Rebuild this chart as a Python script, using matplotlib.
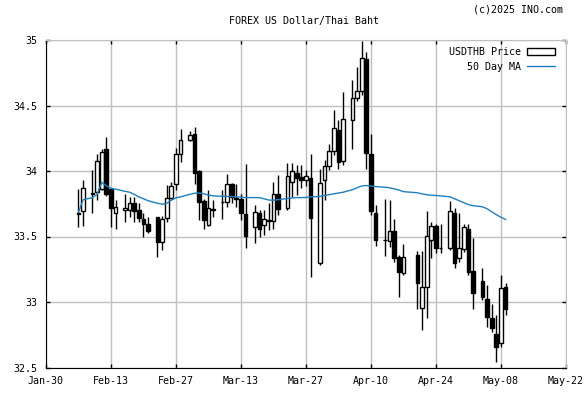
import matplotlib
matplotlib.use("Agg")
import matplotlib.pyplot as plt
import matplotlib.dates as mdates
from matplotlib.patches import Patch
from matplotlib.lines import Line2D
import pandas as pd

# Daily USD/THB candles (forex feed includes Sunday sessions)
dates = ["2025-02-06", "2025-02-07", "2025-02-09", "2025-02-10", "2025-02-11", "2025-02-12",
         "2025-02-13", "2025-02-14", "2025-02-16", "2025-02-17", "2025-02-18", "2025-02-19",
         "2025-02-20", "2025-02-21", "2025-02-23", "2025-02-24", "2025-02-25", "2025-02-26",
         "2025-02-27", "2025-02-28", "2025-03-02", "2025-03-03", "2025-03-04", "2025-03-05",
         "2025-03-06", "2025-03-07", "2025-03-09", "2025-03-10", "2025-03-11", "2025-03-12",
         "2025-03-13", "2025-03-14", "2025-03-16", "2025-03-17", "2025-03-18", "2025-03-19",
         "2025-03-20", "2025-03-21", "2025-03-23", "2025-03-24", "2025-03-25", "2025-03-26",
         "2025-03-27", "2025-03-28", "2025-03-30", "2025-03-31", "2025-04-01", "2025-04-02",
         "2025-04-03", "2025-04-04", "2025-04-06", "2025-04-07", "2025-04-08", "2025-04-09",
         "2025-04-10", "2025-04-11", "2025-04-13", "2025-04-14", "2025-04-15", "2025-04-16",
         "2025-04-17", "2025-04-20", "2025-04-21", "2025-04-22", "2025-04-23", "2025-04-24",
         "2025-04-25", "2025-04-27", "2025-04-28", "2025-04-29", "2025-04-30", "2025-05-01",
         "2025-05-02", "2025-05-04", "2025-05-05", "2025-05-06", "2025-05-07", "2025-05-08",
         "2025-05-09"]

opens = [33.675, 33.693, 33.828, 33.840, 33.866, 34.171, 33.866, 33.683, 33.701, 33.701,
         33.752, 33.701, 33.637, 33.599, 33.650, 33.455, 33.645, 33.797, 33.904, 34.133,
         34.239, 34.279, 33.998, 33.771, 33.586, 33.708, 33.766, 33.764, 33.899, 33.792,
         33.790, 33.670, 33.569, 33.676, 33.586, 33.622, 33.617, 33.822, 33.714, 33.916,
         33.988, 33.954, 33.929, 33.950, 33.295, 33.929, 34.036, 34.152, 34.310, 34.074,
         34.391, 34.559, 34.607, 34.856, 34.133, 33.683, 33.474, 33.465, 33.541, 33.340,
         33.223, 33.358, 32.952, 33.112, 33.477, 33.579, 33.416, 33.409, 33.676, 33.333,
         33.401, 33.561, 33.236, 33.160, 33.023, 32.876, 32.756, 32.685, 33.117]

highs = [33.866, 33.929, 34.005, 34.133, 34.171, 34.259, 33.868, 33.777, 33.822, 33.802,
         33.802, 33.752, 33.676, 33.650, 33.652, 33.655, 33.891, 33.916, 34.173, 34.323,
         34.305, 34.335, 34.005, 33.784, 33.853, 33.777, 33.853, 33.980, 33.906, 33.899,
         33.828, 34.056, 33.739, 33.701, 33.701, 33.752, 33.916, 33.967, 34.061, 34.061,
         34.043, 34.043, 34.005, 34.133, 34.018, 34.081, 34.209, 34.462, 34.386, 34.602,
         34.691, 34.792, 34.995, 34.912, 34.285, 33.739, 33.790, 33.782, 33.632, 33.358,
         33.439, 33.388, 33.388, 33.693, 33.612, 33.594, 33.594, 33.769, 33.721, 33.678,
         33.594, 33.594, 33.485, 33.257, 33.129, 32.985, 32.901, 33.206, 33.147]

lows = [33.574, 33.579, 33.680, 33.777, 33.853, 33.807, 33.574, 33.561, 33.612, 33.650,
        33.612, 33.612, 33.497, 33.523, 33.345, 33.396, 33.609, 33.784, 33.853, 34.069,
        34.226, 33.904, 33.624, 33.561, 33.579, 33.650, 33.637, 33.726, 33.752, 33.726,
        33.624, 33.409, 33.447, 33.497, 33.510, 33.548, 33.561, 33.663, 33.701, 33.802,
        33.815, 33.868, 33.883, 33.190, 33.282, 33.777, 34.005, 34.120, 34.018, 34.043,
        34.171, 34.538, 34.577, 34.018, 33.663, 33.429, 33.350, 33.421, 33.305, 33.040,
        33.206, 32.944, 32.787, 32.876, 33.333, 33.373, 33.373, 33.396, 33.257, 33.305,
        33.381, 33.206, 32.944, 33.015, 32.812, 32.772, 32.545, 32.660, 32.901]

closes = [33.678, 33.874, 33.832, 34.076, 34.145, 33.828, 33.714, 33.726, 33.718, 33.752,
          33.695, 33.645, 33.599, 33.543, 33.459, 33.637, 33.797, 33.883, 34.133, 34.239,
          34.272, 33.985, 33.764, 33.624, 33.714, 33.704, 33.762, 33.899, 33.802, 33.788,
          33.676, 33.503, 33.688, 33.561, 33.637, 33.626, 33.828, 33.708, 33.960, 34.000,
          33.950, 33.929, 33.960, 33.645, 33.909, 34.036, 34.150, 34.330, 34.069, 34.394,
          34.559, 34.607, 34.864, 34.137, 33.693, 33.472, 33.470, 33.541, 33.337, 33.231,
          33.345, 33.142, 33.112, 33.505, 33.579, 33.409, 33.412, 33.693, 33.295, 33.414,
          33.574, 33.231, 33.066, 33.040, 32.884, 32.800, 32.660, 33.104, 32.947]

ma50 = [33.688, 33.781, 33.797, 33.822, 33.914, 33.887, 33.868, 33.861, 33.845, 33.838,
        33.822, 33.802, 33.788, 33.773, 33.754, 33.746, 33.754, 33.777, 33.796, 33.803,
        33.822, 33.830, 33.832, 33.826, 33.816, 33.810, 33.807, 33.806, 33.805, 33.803,
        33.800, 33.797, 33.797, 33.796, 33.788, 33.778, 33.777, 33.781, 33.790, 33.794,
        33.797, 33.797, 33.798, 33.802, 33.806, 33.813, 33.819, 33.826, 33.832, 33.838,
        33.857, 33.872, 33.886, 33.889, 33.885, 33.881, 33.876, 33.872, 33.864, 33.855,
        33.842, 33.834, 33.825, 33.819, 33.815, 33.813, 33.810, 33.803, 33.788, 33.773,
        33.758, 33.743, 33.735, 33.727, 33.712, 33.689, 33.666, 33.647, 33.630]

tick_dates = pd.date_range("2025-01-30", "2025-05-22", freq="14D")
y_ticks = [32.5, 33, 33.5, 34, 34.5, 35]
y_labels = ["32.5", "33", "33.5", "34", "34.5", "35"]

mono = "DejaVu Sans Mono"
fs = 7.2
grid_col = "#c0c0c0"
ma_col = "#1f7fc0"

fig = plt.figure(figsize=(5.85, 3.94), dpi=100)
ax = fig.add_axes([46 / 585, 1 - 367.5 / 394, 520 / 585, 327.5 / 394])

x = mdates.date2num(pd.to_datetime(dates))

# wicks, then bodies on top
ax.vlines(x, lows, highs, colors="black", linewidth=1, zorder=2)
for xi, o, c in zip(x, opens, closes):
    face = "white" if c >= o else "black"
    ax.bar(xi, abs(c - o), bottom=min(o, c), width=0.8, color=face,
           edgecolor="black", linewidth=1, zorder=3)

ax.plot(x, ma50, color=ma_col, linewidth=1, zorder=4)

ax.set_xlim(mdates.date2num(tick_dates[0]), mdates.date2num(tick_dates[-1]))
ax.set_ylim(32.5, 35)
ax.set_xticks(mdates.date2num(tick_dates))
ax.set_xticklabels([d.strftime("%b-%d") for d in tick_dates], fontfamily=mono, fontsize=fs)
ax.set_yticks(y_ticks)
ax.set_yticklabels(y_labels, fontfamily=mono, fontsize=fs)
ax.tick_params(direction="in", length=3, width=1, top=True, right=True, pad=6)
ax.grid(True, color=grid_col, linewidth=1, zorder=0)
ax.set_axisbelow(True)
ax.spines["left"].set_color("black")
ax.spines["bottom"].set_color("black")
ax.spines["top"].set_color(grid_col)
ax.spines["right"].set_color(grid_col)

handles = [Patch(facecolor="white", edgecolor="black", linewidth=1),
           Line2D([0], [0], color=ma_col, linewidth=1)]
leg = ax.legend(handles, ["USDTHB Price", "50 Day MA"], loc="upper right",
                bbox_to_anchor=(1 - 4 / 520, 1),
                frameon=False, markerfirst=False, prop={"family": mono, "size": fs},
                handlelength=2.8, handleheight=0.6, handletextpad=0.6,
                borderaxespad=0.3, labelspacing=0.45)

fig.text(304 / 585, 1 - 21 / 394, "FOREX US Dollar/Thai Baht", ha="center", va="center",
         fontfamily=mono, fontsize=fs)
fig.text(563 / 585, 1 - 10 / 394, "(c)2025 INO.com", ha="right", va="center",
         fontfamily=mono, fontsize=fs)

fig.savefig("out.png", dpi=100)
